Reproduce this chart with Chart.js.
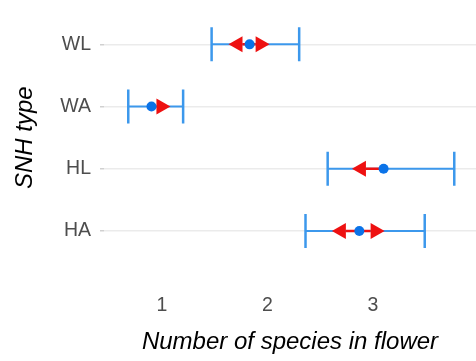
<!DOCTYPE html>
<html>
<head>
<meta charset="utf-8">
<script src="https://cdn.jsdelivr.net/npm/chart.js@4"></script>
<style>
  html, body { margin: 0; padding: 0; background: #ffffff; }
  #wrap { width: 476px; height: 361px; }
</style>
</head>
<body>
<div id="wrap"><canvas id="c" width="476" height="361"></canvas></div>
<script>
// SNH types and number of species in flower (mean with interval, plus change arrows)
const snhTypes = ['WL', 'WA', 'HL', 'HA'];
const meanSpecies = [1.83, 0.90, 3.10, 2.87];
const lowerCI = [1.47, 0.68, 2.57, 2.36];
const upperCI = [2.30, 1.20, 3.77, 3.49];
const decreaseTo = [1.63, null, 2.80, 2.61];
const increaseTo = [2.02, 1.08, null, 3.11];
const xTickValues = [1, 2, 3];

const FONT = "'Liberation Sans', Arial, Helvetica, sans-serif";
const ERR_BLUE = '#3c98ec';
const MEAN_BLUE = '#0b73e8';
const RED = '#ee1111';
const CAP = 17;
const HEAD_LEN = 14;
const HEAD_HALF = 8;

// Intervals with end caps, and red arrows from the mean towards the changed value
const intervalsAndArrows = {
  id: 'intervalsAndArrows',
  beforeDatasetsDraw(chart) {
    const { ctx, chartArea, scales: { x, y } } = chart;
    ctx.save();
    ctx.beginPath();
    ctx.rect(chartArea.left, chartArea.top, chartArea.width, chartArea.height);
    ctx.clip();
    ctx.lineCap = 'butt';
    snhTypes.forEach((_, i) => {
      const py = y.getPixelForValue(i);
      const x0 = x.getPixelForValue(lowerCI[i]);
      const x1 = x.getPixelForValue(upperCI[i]);
      ctx.strokeStyle = ERR_BLUE;
      ctx.lineWidth = 2;
      ctx.beginPath();
      ctx.moveTo(x0, py);
      ctx.lineTo(x1, py);
      ctx.stroke();
      ctx.lineWidth = 2.5;
      [x0, x1].forEach(px => {
        ctx.beginPath();
        ctx.moveTo(px, py - CAP);
        ctx.lineTo(px, py + CAP);
        ctx.stroke();
      });
      const pm = x.getPixelForValue(meanSpecies[i]);
      [decreaseTo[i], increaseTo[i]].forEach(v => {
        if (v === null) return;
        const pt = x.getPixelForValue(v);
        const dir = Math.sign(pt - pm);
        const base = pt - dir * HEAD_LEN;
        ctx.strokeStyle = RED;
        ctx.lineWidth = 2.5;
        ctx.beginPath();
        ctx.moveTo(pm, py);
        ctx.lineTo(base, py);
        ctx.stroke();
        ctx.fillStyle = RED;
        ctx.beginPath();
        ctx.moveTo(pt, py);
        ctx.lineTo(base, py - HEAD_HALF);
        ctx.lineTo(base, py + HEAD_HALF);
        ctx.closePath();
        ctx.fill();
      });
    });
    ctx.restore();
  }
};

new Chart(document.getElementById('c'), {
  type: 'scatter',
  data: {
    datasets: [{
      label: 'Mean',
      data: meanSpecies.map((v, i) => ({ x: v, y: i })),
      pointRadius: 5,
      pointHoverRadius: 5,
      pointBackgroundColor: MEAN_BLUE,
      pointBorderWidth: 0
    }]
  },
  options: {
    responsive: false,
    devicePixelRatio: 1,
    animation: false,
    layout: { autoPadding: false, padding: { top: 7, right: 0, bottom: 0, left: 0 } },
    plugins: { legend: { display: false }, tooltip: { enabled: false } },
    scales: {
      x: {
        type: 'linear',
        min: 0.45,
        max: 3.976,
        afterBuildTicks: s => { s.ticks = xTickValues.map(v => ({ value: v })); },
        afterFit: s => { s.height = 92.6; s.paddingLeft = 0; s.paddingRight = 0; },
        grid: { display: false, drawTicks: false },
        border: { display: false },
        ticks: {
          padding: 26,
          color: '#4d4d4d',
          font: { family: FONT, size: 19.5 },
          callback: v => String(v)
        },
        title: {
          display: true,
          text: 'Number of species in flower',
          color: '#000000',
          font: { family: FONT, size: 24, style: 'italic' },
          padding: { top: 0, bottom: 4 }
        }
      },
      y: {
        type: 'linear',
        reverse: true,
        min: -0.6,
        max: 3.6,
        afterBuildTicks: s => { s.ticks = snhTypes.map((_, i) => ({ value: i })); },
        afterFit: s => { s.width = 104; s.paddingTop = 0; s.paddingBottom = 0; },
        grid: {
          color: '#ebebeb',
          lineWidth: 1.5,
          drawTicks: true,
          tickLength: 4,
          tickColor: '#d0d0d0',
          tickWidth: 1.5
        },
        border: { display: false },
        ticks: {
          padding: 9,
          color: '#4d4d4d',
          font: { family: FONT, size: 19.5 },
          callback: v => snhTypes[v]
        },
        title: {
          display: true,
          text: 'SNH type',
          color: '#000000',
          font: { family: FONT, size: 24, style: 'italic' },
          padding: { top: 11, bottom: 0 }
        }
      }
    }
  },
  plugins: [intervalsAndArrows]
});
</script>
</body>
</html>
